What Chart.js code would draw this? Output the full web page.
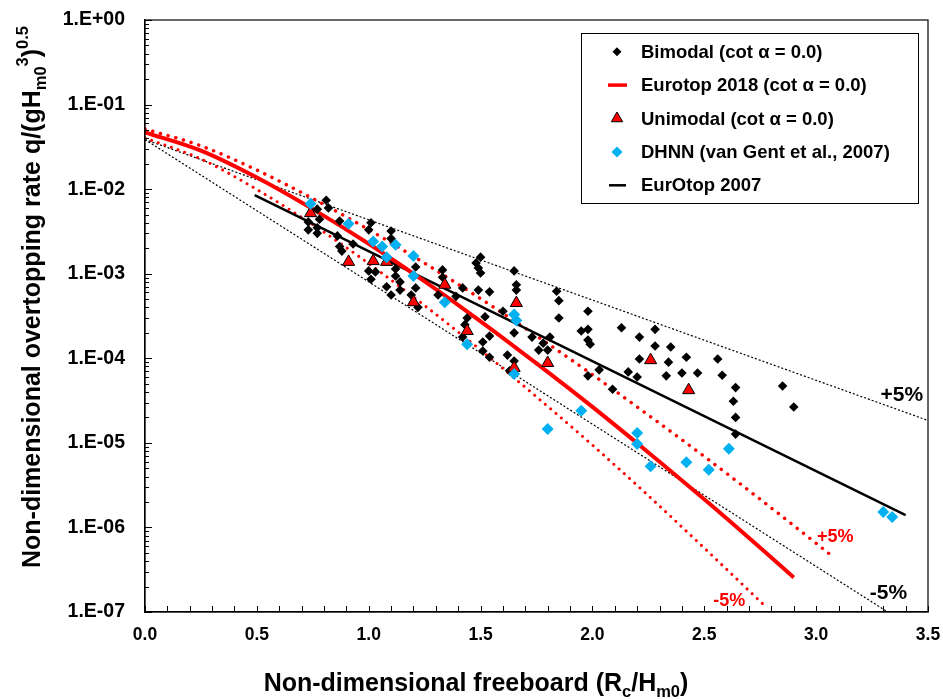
<!DOCTYPE html>
<html><head><meta charset="utf-8">
<script src="https://cdn.jsdelivr.net/npm/chart.js@4.4.1/dist/chart.umd.min.js"></script>
<style>html,body{margin:0;padding:0;background:#fff;}canvas{display:block;}</style>
</head><body>
<canvas id="c" width="943" height="699"></canvas>
<script>
// ---------- data ----------
const bimodalX = [0.81,0.82,0.77,0.78,0.73,0.73,0.77,0.77,0.87,0.86,0.87,0.88,0.93,1.01,1.00,1.10,1.10,1.00,1.03,1.01,1.08,1.12,1.12,1.14,1.14,1.10,1.19,1.21,1.21,1.22,1.33,1.33,1.42,1.31,1.39,1.44,1.43,1.42,1.51,1.51,1.54,1.54,1.52,1.50,1.48,1.49,1.50,1.49,1.54,1.65,1.66,1.66,1.62,1.65,1.73,1.63,1.65,1.84,1.85,1.85,1.98,1.95,1.98,1.98,1.99,2.13,2.21,2.21,2.28,2.28,1.81,1.78,1.76,1.80,2.03,1.98,2.16,2.20,2.09,2.35,2.34,2.42,2.33,2.40,2.47,2.56,2.58,2.64,2.63,2.64,2.64,2.85,2.90,1.60];
const bimodalY = [7.4e-3,6.0e-3,5.8e-3,4.4e-3,4.1e-3,3.3e-3,3.5e-3,3.0e-3,4.2e-3,2.8e-3,2.1e-3,1.85e-3,2.25e-3,4.0e-3,3.3e-3,3.2e-3,2.6e-3,1.08e-3,1.05e-3,8.6e-4,7.0e-4,1.14e-3,9.4e-4,8.0e-4,6.4e-4,5.6e-4,5.6e-4,6.8e-4,1.2e-3,4.0e-4,1.11e-3,9.1e-4,6.8e-4,5.6e-4,5.4e-4,3.0e-4,2.5e-4,1.78e-4,1.56e-4,1.22e-4,1.03e-4,1.83e-4,3.1e-4,1.57e-3,1.34e-3,1.17e-3,1.02e-3,6.4e-4,6.1e-4,1.08e-3,7.4e-4,6.4e-4,1.09e-4,2.0e-4,1.78e-4,7.1e-5,9.3e-5,6.2e-4,4.8e-4,3.0e-4,3.6e-4,2.1e-4,2.2e-4,1.64e-4,1.47e-4,2.3e-4,1.78e-4,9.8e-5,2.2e-4,1.4e-4,1.78e-4,1.51e-4,1.25e-4,1.25e-4,7.3e-5,6.2e-5,6.9e-5,6.0e-5,4.3e-5,1.36e-4,9.0e-5,1.03e-4,6.2e-5,6.7e-5,6.7e-5,9.8e-5,6.3e-5,4.5e-5,3.1e-5,2.0e-5,1.27e-5,4.7e-5,2.65e-5,3.6e-4];

const unimodalX = [0.74,0.91,1.02,1.08,1.20,1.34,1.66,1.44,1.65,1.80,2.26,2.43];
const unimodalY = [5.2e-3,1.38e-3,1.41e-3,1.38e-3,4.6e-4,7.4e-4,4.5e-4,2.1e-4,7.7e-5,8.8e-5,9.5e-5,4.2e-5];

const dhnnX = [0.74,0.91,1.02,1.06,1.12,1.08,1.20,1.20,1.34,1.65,1.66,1.44,1.65,1.95,1.80,2.20,2.20,2.26,2.42,2.52,2.61,3.30,3.34];
const dhnnY = [6.7e-3,3.9e-3,2.4e-3,2.1e-3,2.2e-3,1.57e-3,1.62e-3,9.4e-4,4.6e-4,3.3e-4,2.8e-4,1.47e-4,6.5e-5,2.4e-5,1.46e-5,1.31e-5,9.7e-6,5.3e-6,5.9e-6,4.8e-6,8.5e-6,1.52e-6,1.33e-6];

const eurotop2018X = [0,0.25,0.5,0.75,1.0,1.25,1.5,1.75,2.0,2.25,2.5,2.75,2.9];
const eurotop2018Y = [0.047,0.0285,0.0137,5.8e-3,2.26e-3,8.1e-4,2.74e-4,8.7e-5,2.66e-5,7.7e-6,2.15e-6,5.75e-7,2.56e-7];
const eurotop2018UpX = [0,0.25,0.5,0.75,1.0,1.25,1.5,1.75,2.0,2.25,2.5,2.75,3.0,3.08];
const eurotop2018UpY = [0.0514,0.0325,0.0168,7.75e-3,3.32e-3,1.33e-3,5.07e-4,1.84e-4,6.4e-5,2.13e-5,6.9e-6,2.15e-6,6.5e-7,4.4e-7];
const eurotop2018LoX = [0,0.25,0.5,0.75,1.0,1.25,1.5,1.75,2.0,2.25,2.5,2.76];
const eurotop2018LoY = [0.0403,0.0227,9.9e-3,3.8e-3,1.32e-3,4.2e-4,1.25e-4,3.5e-5,9.4e-6,2.37e-6,5.7e-7,1.26e-7];

const eurotop2007X = [0.49,3.4];
const eurotop2007Y = [8.5e-3,1.4e-6];
const eurotop2007UpX = [0,3.5];
const eurotop2007UpY = [0.0386,1.84e-5];
const eurotop2007LoX = [0,3.32];
const eurotop2007LoY = [0.0386,1.0e-7];

const seriesLabels = ['Bimodal (cot \u03b1 = 0.0)','Eurotop 2018 (cot \u03b1 = 0.0)','Unimodal (cot \u03b1 = 0.0)','DHNN (van Gent et al., 2007)','EurOtop 2007'];
const xTickValues = [0,0.5,1,1.5,2,2.5,3,3.5];
const xTickLabels = ['0.0','0.5','1.0','1.5','2.0','2.5','3.0','3.5'];
const yTickValues = [1e-7,1e-6,1e-5,1e-4,1e-3,1e-2,1e-1,1];
const yTickLabels = ['1.E-07','1.E-06','1.E-05','1.E-04','1.E-03','1.E-02','1.E-01','1.E+00'];
const bandLabels = ['+5%','-5%','+5%','-5%'];
const bandLabelX = [3.383,3.323,3.085,2.612];
const bandLabelY = [3.68e-5,1.66e-7,7.76e-7,1.35e-7];
const bandLabelColor = ['#000','#000','#FF0000','#FF0000'];

// ---------- chart ----------
const FAM = "'Liberation Sans', Arial, sans-serif";
const pts = (xs, ys) => xs.map((x, i) => ({x: x, y: ys[i]}));
const BLUE = '#00B0F0', RED = '#FF0000';

const overlay = {
  id: 'overlay',
  afterDraw(chart) {
    const ctx = chart.ctx, a = chart.chartArea;
    const xs = chart.scales.x, ys = chart.scales.y;
    ctx.save();
    // frame
    ctx.strokeStyle = '#000'; ctx.lineWidth = 1.2;
    ctx.strokeRect(a.left, a.top, a.right - a.left, a.bottom - a.top);
    // x ticks (inside)
    ctx.lineWidth = 1;
    ctx.beginPath();
    for (let i = 0; i <= 35; i++) {
      const px = Math.round(xs.getPixelForValue(i / 10)) + 0.5;
      ctx.moveTo(px, a.bottom); ctx.lineTo(px, a.bottom - 6);
    }
    // y ticks (inside)
    for (let d = 0; d < yTickValues.length; d++) {
      const base = yTickValues[d];
      const maxM = d === yTickValues.length - 1 ? 1 : 9;
      for (let m = 1; m <= maxM; m++) {
        const py = Math.round(ys.getPixelForValue(base * m)) + 0.5;
        ctx.moveTo(a.left, py); ctx.lineTo(a.left + (m === 1 ? 7 : 4), py);
      }
    }
    ctx.stroke();

    // band labels
    ctx.textAlign = 'center'; ctx.textBaseline = 'middle';
    for (let i = 0; i < bandLabels.length; i++) {
      ctx.fillStyle = bandLabelColor[i];
      ctx.font = 'bold ' + (i < 2 ? 21 : 18) + 'px ' + FAM;
      ctx.fillText(bandLabels[i], xs.getPixelForValue(bandLabelX[i]), ys.getPixelForValue(bandLabelY[i]));
    }

    // legend
    const lx = a.left + 436, ly = a.top + 13, lw = 337, lh = 170;
    ctx.fillStyle = '#fff';
    ctx.fillRect(lx, ly, lw, lh);
    ctx.strokeStyle = '#000'; ctx.lineWidth = 1;
    ctx.strokeRect(lx + 0.5, ly + 0.5, lw, lh);
    const mx = lx + 36, tx = lx + 60;
    ctx.textAlign = 'left'; ctx.textBaseline = 'middle';
    ctx.font = 'bold 18.5px ' + FAM;
    for (let i = 0; i < seriesLabels.length; i++) {
      const y = ly + 18.7 + i * 33.4;
      ctx.fillStyle = '#000';
      ctx.fillText(seriesLabels[i], tx, y + 1);
      ctx.beginPath();
      if (i === 0) {
        const r = 4.5;
        ctx.moveTo(mx - r, y); ctx.lineTo(mx, y - r); ctx.lineTo(mx + r, y); ctx.lineTo(mx, y + r); ctx.closePath();
        ctx.fillStyle = '#000'; ctx.fill();
      } else if (i === 1) {
        ctx.strokeStyle = RED; ctx.lineWidth = 3.5;
        ctx.moveTo(mx - 9, y); ctx.lineTo(mx + 10, y); ctx.stroke();
      } else if (i === 2) {
        const r = 6.5;
        ctx.moveTo(mx, y - r); ctx.lineTo(mx + r * 0.866, y + r * 0.5); ctx.lineTo(mx - r * 0.866, y + r * 0.5); ctx.closePath();
        ctx.fillStyle = RED; ctx.fill(); ctx.strokeStyle = '#000'; ctx.lineWidth = 1; ctx.stroke();
      } else if (i === 3) {
        const r = 5.5;
        ctx.moveTo(mx - r, y); ctx.lineTo(mx, y - r); ctx.lineTo(mx + r, y); ctx.lineTo(mx, y + r); ctx.closePath();
        ctx.fillStyle = BLUE; ctx.fill();
      } else {
        ctx.strokeStyle = '#000'; ctx.lineWidth = 2.5;
        ctx.moveTo(mx - 8, y); ctx.lineTo(mx + 9, y); ctx.stroke();
      }
    }

    // axis titles with sub/superscripts
    const MAIN = 'bold 25px ' + FAM, SMALL = 'bold 16.5px ' + FAM;
    function rich(parts, cx, cy, rot) {
      ctx.save();
      ctx.translate(cx, cy); ctx.rotate(rot);
      ctx.textAlign = 'left'; ctx.textBaseline = 'alphabetic'; ctx.fillStyle = '#000';
      let total = 0;
      parts.forEach(p => { ctx.font = p[1] === 'n' ? MAIN : SMALL; total += ctx.measureText(p[0]).width; });
      let x = -total / 2;
      parts.forEach(p => {
        ctx.font = p[1] === 'n' ? MAIN : SMALL;
        const dy = p[1] === 'sub' ? 6 : (p[1] === 'sup' ? -12 : 0);
        ctx.fillText(p[0], x, dy);
        x += ctx.measureText(p[0]).width;
      });
      ctx.restore();
    }
    rich([['Non-dimensional freeboard (R','n'],['c','sub'],['/H','n'],['m0','sub'],[')','n']], 476, 691, 0);
    rich([['Non-dimensional overtopping rate q/(gH','n'],['m0','sub'],['3','sup'],[')','n'],['0.5','sup']], 40, 297, -Math.PI / 2);
    ctx.restore();
  }
};

const zeroPad = s => { s.paddingTop = 0; s.paddingBottom = 0; s.paddingLeft = 0; s.paddingRight = 0; };

new Chart(document.getElementById('c').getContext('2d'), {
  type: 'scatter',
  data: {
    datasets: [
      {label: seriesLabels[3], data: pts(dhnnX, dhnnY), pointStyle: 'rectRot', pointRadius: 6, backgroundColor: BLUE, borderColor: BLUE, borderWidth: 0, order: 1},
      {label: seriesLabels[2], data: pts(unimodalX, unimodalY), pointStyle: 'triangle', pointRadius: 7, backgroundColor: RED, borderColor: '#000', borderWidth: 1, order: 2},
      {label: seriesLabels[0], data: pts(bimodalX, bimodalY), pointStyle: 'rectRot', pointRadius: 4.8, backgroundColor: '#000', borderColor: '#000', borderWidth: 0, order: 3},
      {label: seriesLabels[1], data: pts(eurotop2018X, eurotop2018Y), showLine: true, pointRadius: 0, borderColor: RED, borderWidth: 4, cubicInterpolationMode: 'monotone', order: 5},
      {label: seriesLabels[4], data: pts(eurotop2007X, eurotop2007Y), showLine: true, pointRadius: 0, borderColor: '#000', borderWidth: 2.5, order: 6},
      {label: 'Eurotop 2018 +5%', data: pts(eurotop2018UpX, eurotop2018UpY), showLine: true, pointRadius: 0, borderColor: RED, borderWidth: 3.5, borderDash: [0.01, 8], borderCapStyle: 'round', cubicInterpolationMode: 'monotone', order: 7},
      {label: 'Eurotop 2018 -5%', data: pts(eurotop2018LoX, eurotop2018LoY), showLine: true, pointRadius: 0, borderColor: RED, borderWidth: 3, borderDash: [0.01, 7], borderCapStyle: 'round', cubicInterpolationMode: 'monotone', order: 7},
      {label: 'EurOtop 2007 +5%', data: pts(eurotop2007UpX, eurotop2007UpY), showLine: true, pointRadius: 0, borderColor: '#000', borderWidth: 1.2, borderDash: [2, 2], order: 8},
      {label: 'EurOtop 2007 -5%', data: pts(eurotop2007LoX, eurotop2007LoY), showLine: true, pointRadius: 0, borderColor: '#000', borderWidth: 1.2, borderDash: [2, 2], order: 8}
    ]
  },
  options: {
    responsive: false, animation: false, devicePixelRatio: 1,
    layout: {padding: {top: 20, right: 15, left: 0, bottom: 0}, autoPadding: false},
    plugins: {legend: {display: false}, tooltip: {enabled: false}},
    scales: {
      x: {
        type: 'linear', min: 0, max: 3.5,
        afterBuildTicks: s => { s.ticks = xTickValues.map(v => ({value: v})); },
        afterFit: s => { s.height = 87; zeroPad(s); },
        ticks: {callback: (v, i) => xTickLabels[i], font: {family: FAM, weight: 'bold', size: 17.5}, color: '#000', padding: 13, maxRotation: 0, autoSkip: false},
        grid: {display: false, drawTicks: false},
        border: {display: true, color: '#000', width: 1.2}
      },
      y: {
        type: 'logarithmic', min: 1e-7, max: 1,
        afterBuildTicks: s => { s.ticks = yTickValues.map(v => ({value: v})); },
        afterFit: s => { s.width = 145; zeroPad(s); },
        ticks: {callback: (v, i) => yTickLabels[i], font: {family: FAM, weight: 'bold', size: 19.5}, color: '#000', padding: 20, autoSkip: false},
        grid: {display: false, drawTicks: false},
        border: {display: true, color: '#000', width: 1.2}
      }
    }
  },
  plugins: [overlay]
});
</script>
</body></html>
